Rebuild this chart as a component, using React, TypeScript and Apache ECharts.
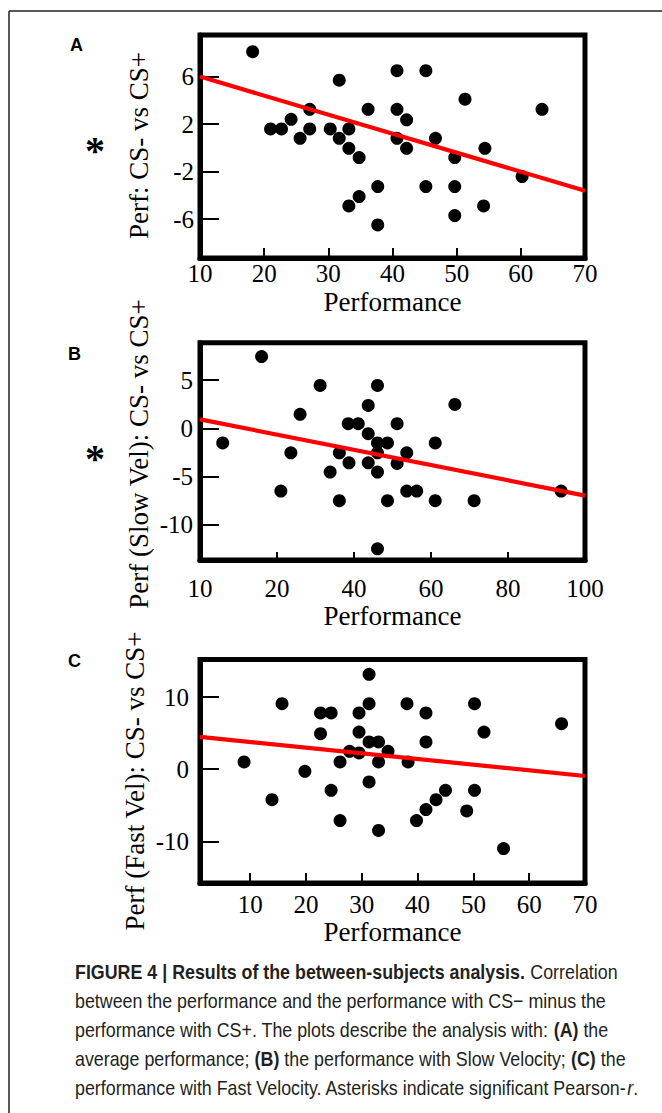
import React, { useEffect, useRef } from "react";
import * as echarts from "echarts";

// ---------- Panel A: average performance ----------
const perfA = [18.2, 31.7, 40.7, 45.2, 51.3, 63.3, 27.1, 36.2, 40.7, 42.2, 24.2, 21.0, 22.7, 27.1, 30.3, 33.2, 25.6, 31.7, 40.7, 46.7, 33.2, 42.2, 54.4, 34.8, 49.7, 60.2, 37.7, 45.2, 49.7, 34.8, 33.2, 54.2, 49.7, 37.7];
const diffA = [8.1, 5.7, 6.5, 6.5, 4.1, 3.25, 3.25, 3.25, 3.25, 2.36, 2.41, 1.6, 1.6, 1.6, 1.6, 1.6, 0.81, 0.81, 0.81, 0.81, -0.03, -0.03, -0.03, -0.81, -0.81, -2.41, -3.25, -3.25, -3.25, -4.09, -4.88, -4.88, -5.69, -6.48];
const fitAx = [10, 70];
const fitAy = [6.0, -3.6];
const xTicksA = [20, 30, 40, 50, 60];
const xLabelValsA = [10, 20, 30, 40, 50, 60, 70];
const xLabelsA = ["10", "20", "30", "40", "50", "60", "70"];
const yTicksA = [-6, -2, 2, 6];
const yLabelsA = ["-6", "-2", "2", "6"];

// ---------- Panel B: slow velocity ----------
const perfB = [16.0, 5.9, 31.2, 46.1, 43.7, 66.2, 26.0, 38.5, 41.1, 51.2, 43.7, 46.1, 48.7, 61.1, 23.6, 36.2, 46.1, 53.7, 38.7, 43.7, 51.2, 33.8, 46.1, 21.0, 53.7, 56.3, 93.8, 36.2, 48.7, 61.1, 71.2, 46.1];
const diffB = [7.46, -1.53, 4.45, 4.45, 2.38, 2.48, 1.45, 0.48, 0.48, 0.48, -0.56, -1.53, -1.53, -1.53, -2.55, -2.55, -2.55, -2.55, -3.59, -3.59, -3.66, -4.56, -4.56, -6.53, -6.53, -6.53, -6.53, -7.53, -7.53, -7.53, -7.53, -12.54];
const fitBx = [0, 100];
const fitBy = [0.93, -7.0];
const xTicksB = [20, 40, 60, 80];
const xLabelValsB = [0, 20, 40, 60, 80, 100];
const xLabelsB = ["10", "20", "40", "60", "80", "100"];
const yTicksB = [-10, -5, 0, 5];
const yLabelsB = ["-10", "-5", "0", "5"];

// ---------- Panel C: fast velocity ----------
const perfC = [31.3, 15.7, 31.3, 38.1, 50.2, 22.6, 24.5, 29.5, 41.5, 65.8, 22.6, 29.5, 51.9, 31.3, 33.0, 41.5, 27.8, 29.5, 34.7, 8.9, 26.1, 33.0, 38.3, 19.8, 31.3, 24.5, 45.0, 50.2, 13.9, 43.3, 41.5, 48.8, 26.1, 39.8, 33.0, 55.4];
const diffC = [13.15, 9.08, 9.08, 9.08, 9.08, 7.79, 7.79, 7.79, 7.79, 6.31, 4.92, 5.15, 5.15, 3.77, 3.77, 3.77, 2.48, 2.25, 2.48, 1.0, 1.0, 1.0, 1.0, -0.29, -1.77, -2.92, -2.92, -2.92, -4.22, -4.22, -5.6, -5.78, -7.12, -7.12, -8.48, -11.0];
const fitCx = [1, 70];
const fitCy = [4.47, -0.94];
const xTicksC = [10, 20, 30, 40, 50, 60];
const xLabelValsC = [10, 20, 30, 40, 50, 60, 70];
const xLabelsC = ["10", "20", "30", "40", "50", "60", "70"];
const yTicksC = [-10, 0, 10];
const yLabelsC = ["-10", "0", "10"];

// ---------- Texts ----------
const panelLetters = ["A", "B", "C"];
const yTitles = ["Perf: CS- vs CS+", "Perf (Slow Vel): CS- vs CS+", "Perf (Fast Vel): CS- vs CS+"];
const xTitle = "Performance";
const captionLines = [
  "{b|FIGURE 4 | Results of the between-subjects analysis.} Correlation",
  "between the performance and the performance with CS\u2212 minus the",
  "performance with CS+. The plots describe the analysis with: {b|(A)} the",
  "average performance; {b|(B)} the performance with Slow Velocity; {b|(C)} the",
  "performance with Fast Velocity. Asterisks indicate significant Pearson-{i|r}.",
];

const zip = (a: number[], b: number[]) => a.map((v, i) => [v, b[i]]);

export default function App() {
  const ref = useRef<HTMLDivElement>(null);

  useEffect(() => {
    if (!ref.current) return;
    const chart = echarts.init(ref.current, null, { renderer: "svg" });
    const serif = "'Liberation Serif', 'Times New Roman', serif";
    const sans = "'Liberation Sans', Arial, sans-serif";

    const grids = [
      { top: 35, height: 223 },
      { top: 342.7, height: 217.3 },
      { top: 659.5, height: 223.5 },
    ];

    const xCfg = [
      { min: 10, max: 70, ticks: xTicksA, vals: xLabelValsA, labels: xLabelsA, margin: 3, nameGap: 30, tickLen: 10 },
      { min: 0, max: 100, ticks: xTicksB, vals: xLabelValsB, labels: xLabelsB, margin: 16, nameGap: 42, tickLen: 8 },
      { min: 1, max: 70, ticks: xTicksC, vals: xLabelValsC, labels: xLabelsC, margin: 9, nameGap: 35, tickLen: 10 },
    ];
    const yCfg = [
      { min: -9.26, max: 9.5, ticks: yTicksA, labels: yLabelsA, margin: 6 },
      { min: -13.7, max: 8.9, ticks: yTicksB, labels: yLabelsB, margin: 7 },
      { min: -15.77, max: 15.2, ticks: yTicksC, labels: yLabelsC, margin: 11 },
    ];

    const series: any[] = [];
    const pts = [zip(perfA, diffA), zip(perfB, diffB), zip(perfC, diffC)];
    const fits = [zip(fitAx, fitAy), zip(fitBx, fitBy), zip(fitCx, fitCy)];
    for (let i = 0; i < 3; i++) {
      series.push({
        type: "scatter",
        xAxisIndex: i,
        yAxisIndex: i,
        data: pts[i],
        symbolSize: 13,
        itemStyle: { color: "#000", opacity: 1 },
        silent: true,
        z: 2,
      });
      series.push({
        type: "line",
        xAxisIndex: i,
        yAxisIndex: i,
        data: fits[i],
        showSymbol: false,
        symbol: "none",
        lineStyle: { color: "#ff0000", width: 4.2 },
        silent: true,
        z: 3,
      });
    }

    const graphic: any[] = [
      { type: "line", shape: { x1: 9, y1: 11, x2: 662, y2: 11 }, style: { stroke: "#222", lineWidth: 1.5 } },
      { type: "line", shape: { x1: 9, y1: 11, x2: 9, y2: 1113 }, style: { stroke: "#222", lineWidth: 1.5 } },
    ];
    const letterPos = [[70, 45], [68, 354], [68, 661]];
    panelLetters.forEach((t, i) => {
      graphic.push({
        type: "text",
        x: letterPos[i][0],
        y: letterPos[i][1],
        style: { text: t, font: `bold 18px ${sans}`, fill: "#000", align: "left", verticalAlign: "middle" },
      });
    });
    const yTitlePos = [[139, 145.5], [139, 454], [135, 781]];
    yTitles.forEach((t, i) => {
      graphic.push({
        type: "text",
        x: yTitlePos[i][0],
        y: yTitlePos[i][1],
        rotation: Math.PI / 2,
        style: { text: t, font: `27px ${serif}`, fill: "#000", align: "center", verticalAlign: "middle" },
      });
    });
    [[95, 145], [95, 453]].forEach((p) => {
      graphic.push({
        type: "text",
        x: p[0],
        y: p[1] + 5,
        style: { text: "*", font: `bold 40px ${serif}`, fill: "#000", align: "center", verticalAlign: "middle" },
      });
    });
    captionLines.forEach((t, i) => {
      graphic.push({
        type: "text",
        x: 75,
        y: 971 + i * 29,
        scaleX: 0.85,
        style: {
          text: t,
          font: `21px ${sans}`,
          fill: "#231f20",
          align: "left",
          verticalAlign: "middle",
          rich: {
            b: { font: `bold 21px ${sans}`, fill: "#231f20" },
            i: { font: `italic 21px ${sans}`, fill: "#231f20" },
          },
        },
      });
    });

    const option: any = {
      animation: false,
      backgroundColor: "#fff",
      grid: grids.map((g) => ({
        left: 200,
        width: 385,
        top: g.top,
        height: g.height,
        show: true,
        borderColor: "#000",
        borderWidth: 5,
        backgroundColor: "transparent",
        containLabel: false,
        outerBoundsMode: "none",
      })),
      xAxis: xCfg.map((c, i) => ({
        type: "value",
        gridIndex: i,
        min: c.min,
        max: c.max,
        axisLine: { show: true, onZero: false, lineStyle: { color: "#000", width: 5 } },
        axisTick: { show: true, inside: true, length: c.tickLen, lineStyle: { color: "#000", width: 2 }, customValues: c.ticks },
        axisLabel: {
          show: true,
          customValues: c.vals,
          formatter: (v: number) => {
            const k = c.vals.indexOf(v);
            return k >= 0 ? c.labels[k] : "";
          },
          margin: c.margin,
          color: "#000",
          fontFamily: serif,
          fontSize: 25,
          showMinLabel: true,
          showMaxLabel: true,
          hideOverlap: false,
        },
        splitLine: { show: false },
        name: xTitle,
        nameLocation: "middle",
        nameGap: c.nameGap,
        nameMoveOverlap: false,
        nameTextStyle: { color: "#000", fontFamily: serif, fontSize: 27 },
      })),
      yAxis: yCfg.map((c, i) => ({
        type: "value",
        gridIndex: i,
        min: c.min,
        max: c.max,
        axisLine: { show: true, onZero: false, lineStyle: { color: "#000", width: 5 } },
        axisTick: { show: true, inside: true, length: 19, lineStyle: { color: "#000", width: 2 }, customValues: c.ticks },
        axisLabel: {
          show: true,
          customValues: c.ticks,
          formatter: (v: number) => {
            const k = c.ticks.indexOf(v);
            return k >= 0 ? c.labels[k] : "";
          },
          margin: c.margin,
          color: "#000",
          fontFamily: serif,
          fontSize: 25,
          hideOverlap: false,
        },
        splitLine: { show: false },
      })),
      series,
      graphic,
    };

    chart.setOption(option);
    return () => chart.dispose();
  }, []);

  return (
    <div
      ref={ref}
      style={{ position: "absolute", left: 0, top: 0, width: 662, height: 1113 }}
    />
  );
}
